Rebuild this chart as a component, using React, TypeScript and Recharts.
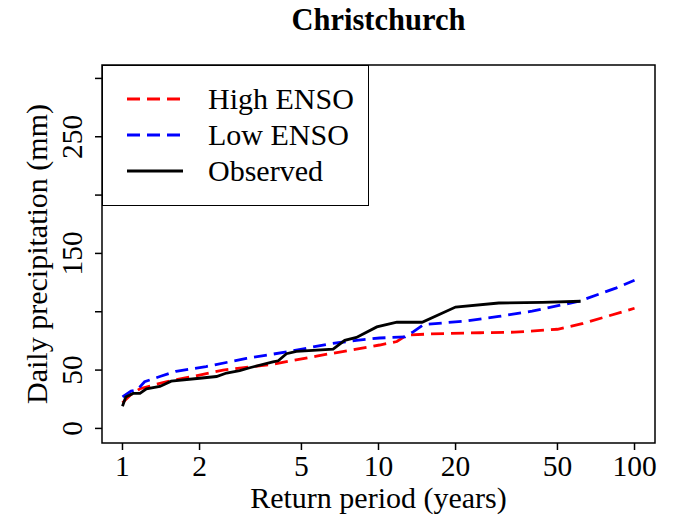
import { LineChart, Line, XAxis, YAxis, ReferenceArea, Legend, Customized } from "recharts";

const FONT = "'Liberation Serif', 'Times New Roman', serif";

// return period (years) / daily precipitation (mm)
const highX = [1, 1.08, 1.17, 1.48, 1.83, 2.47, 3.87, 5.73, 8.2, 10.1, 11.8, 12.9, 16, 25, 34, 50, 63, 100];
const highY = [22, 29, 34, 40, 44, 50, 55, 62, 68, 71.5, 74.5, 80, 81, 82, 82.5, 85, 90, 103];

const lowX = [1, 1.08, 1.14, 1.22, 1.4, 1.62, 2.12, 3.05, 4.5, 6.45, 8.2, 10.1, 12.7, 13.7, 15, 21.7, 29.5, 39.8, 60.8, 85, 100];
const lowY = [27, 32, 33, 40, 44.5, 49, 53, 60, 66, 72.5, 75.5, 77.5, 78.5, 83, 89, 92, 96, 100.5, 109, 120.5, 127];

const obsX = [1, 1.03, 1.1, 1.17, 1.24, 1.4, 1.55, 2.0, 2.33, 2.55, 2.87, 3.14, 3.87, 4.06, 4.37, 4.78, 6.65, 7.38, 8.2, 9.85, 11.8, 14.8, 20, 29.5, 43.6, 61.6];
const obsY = [19, 27, 30, 30, 34, 36, 40.5, 43, 44.5, 47.5, 49.5, 52, 57, 58, 64, 66, 68, 75.5, 78, 87, 91, 91, 104, 107.5, 108, 109];

const xTicks = [1, 2, 5, 10, 20, 50, 100];
const yTicks = [0, 50, 100, 150, 200, 250, 300];
const yTickLabels = ["0", "50", "", "150", "", "250", ""];

const series = [
  { name: "High ENSO", xs: highX, ys: highY, color: "#ff0000", dash: "13 7" },
  { name: "Low ENSO", xs: lowX, ys: lowY, color: "#0000ff", dash: "13 7" },
  { name: "Observed", xs: obsX, ys: obsY, color: "#000000", dash: undefined },
];

// R pads the axis range by 4% on each side
const xMin = Math.pow(10, -0.08);
const xMax = Math.pow(10, 2.08);
const yMin = -12.5;
const yMax = 311.5;

function toPoints(xs: number[], ys: number[]) {
  return xs.map((x, i) => ({ x, y: ys[i] }));
}

function XTick({ x, y, payload }: any) {
  return (
    <text x={x} y={y + 24} textAnchor="middle" fontSize={29.5} fontFamily={FONT} fill="#000">
      {payload.value}
    </text>
  );
}

function YTick({ x, y, payload }: any) {
  const label = yTickLabels[yTicks.indexOf(payload.value)];
  if (!label) return null;
  const tx = x - 11;
  return (
    <text
      x={tx}
      y={y}
      transform={`rotate(-90, ${tx}, ${y})`}
      textAnchor="middle"
      fontSize={29.5}
      fontFamily={FONT}
      fill="#000"
    >
      {label}
    </text>
  );
}

function LegendBox() {
  return (
    <div
      style={{
        width: 267,
        height: 141,
        boxSizing: "border-box",
        border: "1.5px solid #000",
        background: "#fff",
        position: "relative",
        fontFamily: FONT,
      }}
    >
      <svg width={267} height={141} style={{ position: "absolute", left: -1.5, top: -1.5 }}>
        {series.map((s, i) => (
          <g key={s.name}>
            <line
              x1={25}
              x2={81}
              y1={34 + i * 36}
              y2={34 + i * 36}
              stroke={s.color}
              strokeWidth={2.8}
              strokeDasharray={s.dash}
            />
            <text x={106} y={44 + i * 36} fontSize={30} fontFamily={FONT} fill="#000">
              {s.name}
            </text>
          </g>
        ))}
      </svg>
    </div>
  );
}

function Title() {
  return (
    <text x={378.5} y={30} textAnchor="middle" fontSize={30.5} fontWeight="bold" fontFamily={FONT} fill="#000">
      Christchurch
    </text>
  );
}

export default function App() {
  return (
    <div style={{ position: "absolute", left: 0, top: 0, width: 686, height: 519, background: "#fff", fontFamily: FONT }}>
      <LineChart width={686} height={519} margin={{ top: 65, right: 31, bottom: 46, left: 42 }}>
        <XAxis
          type="number"
          dataKey="x"
          scale="log"
          domain={[xMin, xMax]}
          allowDataOverflow
          ticks={xTicks}
          interval={0}
          height={30}
          axisLine={false}
          tickSize={7}
          tickMargin={2}
          tickLine={{ stroke: "#000", strokeWidth: 1.5 }}
          tick={<XTick />}
          label={{
            content: ({ viewBox }: any) => (
              <text
                x={viewBox.x + viewBox.width / 2}
                y={viewBox.y + 65}
                textAnchor="middle"
                fontSize={30}
                fontFamily={FONT}
                fill="#000"
              >
                Return period (years)
              </text>
            ),
          }}
        />
        <YAxis
          type="number"
          domain={[yMin, yMax]}
          allowDataOverflow
          ticks={yTicks}
          interval={0}
          width={60}
          axisLine={false}
          tickSize={7}
          tickMargin={2}
          tickLine={{ stroke: "#000", strokeWidth: 1.5 }}
          tick={<YTick />}
          label={{
            content: ({ viewBox }: any) => {
              const cx = 47;
              const cy = viewBox.y + viewBox.height / 2;
              return (
                <text
                  x={cx}
                  y={cy}
                  transform={`rotate(-90, ${cx}, ${cy})`}
                  textAnchor="middle"
                  fontSize={30}
                  fontFamily={FONT}
                  fill="#000"
                >
                  Daily precipitation (mm)
                </text>
              );
            },
          }}
        />
        <ReferenceArea
          x1={xMin}
          x2={xMax}
          y1={yMin}
          y2={yMax}
          fill="none"
          stroke="#000"
          strokeWidth={1.5}
          ifOverflow="visible"
        />
        {series.map((s) => (
          <Line
            key={s.name}
            data={toPoints(s.xs, s.ys)}
            dataKey="y"
            name={s.name}
            type="linear"
            stroke={s.color}
            strokeWidth={2.8}
            strokeDasharray={s.dash}
            dot={false}
            activeDot={false}
            isAnimationActive={false}
          />
        ))}
        <Legend
          layout="horizontal"
          verticalAlign="middle"
          align="center"
          content={() => <LegendBox />}
          wrapperStyle={{ position: "absolute", left: 102, top: 65, width: 267, height: 141, margin: 0 }}
        />
        <Customized component={Title} />
      </LineChart>
    </div>
  );
}
